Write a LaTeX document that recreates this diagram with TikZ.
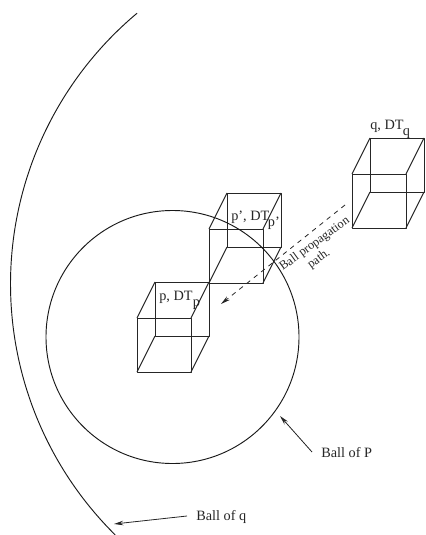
\documentclass[tikz,border=0pt]{standalone}
\usepackage{fontspec}
\setmainfont{Liberation Serif}
\usetikzlibrary{arrows.meta}
\newcommand{\sbp}[1]{\raisebox{-5.2pt}{#1}}
\tikzset{
  x=0.75pt,y=-0.75pt,
  edge/.style={line width=0.72pt,black!85,line join=round},
  curve/.style={line width=0.7pt,black!90},
  lbl/.style={inner sep=0pt,anchor=base west,font=\fontsize{10.7pt}{12pt}\selectfont,text=black!85},
  pointer/.style={line width=0.6pt,black!85,-{Stealth[length=7pt,width=3.4pt]}},
  pics/wirecube/.style={code={
    \draw[edge] (0,36) rectangle (54,90);
    \draw[edge] (18,0) rectangle (72,54);
    \draw[edge] (0,36) -- (18,0) (54,36) -- (72,0) (0,90) -- (18,54) (54,90) -- (72,54);
  }}
}
\begin{document}
\begin{tikzpicture}
\useasboundingbox (0,0) rectangle (425,535);
% cubes
\pic at (137,282) {wirecube};
\pic at (209,193) {wirecube};
\pic at (352,138) {wirecube};
% balls
\node[circle,draw,curve,minimum size=189.75pt,inner sep=0pt] (ballp) at (172.5,337) {};
\draw[curve] plot[domain=134.7:230.1,samples=80,smooth] ({363.5+353*cos(\x)},{284+353*sin(\x)});
% labels
\node[lbl] (lp) at (159,300) {p, DT\kern0.3pt\sbp{p}};
\node[lbl] (lpp) at (231,220) {p', DT\kern-1pt\sbp{p'}};
\node[lbl] (lq) at (370,129) {q, DT\kern-0.5pt\sbp{q}};
\node[lbl] (lballp) at (321,457) {Ball of P};
\node[lbl] (lballq) at (196,520) {Ball of q};
\node[inner sep=0pt,align=center,rotate=36,font=\fontsize{9.3pt}{11pt}\selectfont,text=black!85] (lpath) at (319,250) {Ball propagation\\path.\hspace*{8pt}};
% pointers
\coordinate (ps) at (312,452);
\coordinate (pe) at (280,416);
\coordinate (qs) at (187,516);
\coordinate (qe) at (114,524);
\coordinate (ds) at (345,205);
\coordinate (de) at (221,304);
\draw[pointer] (ps) -- (pe);
\draw[pointer] (qs) -- (qe);
\draw[pointer,dashed,dash pattern=on 3.5pt off 3.5pt] (ds) -- (de);
\end{tikzpicture}
\end{document}
